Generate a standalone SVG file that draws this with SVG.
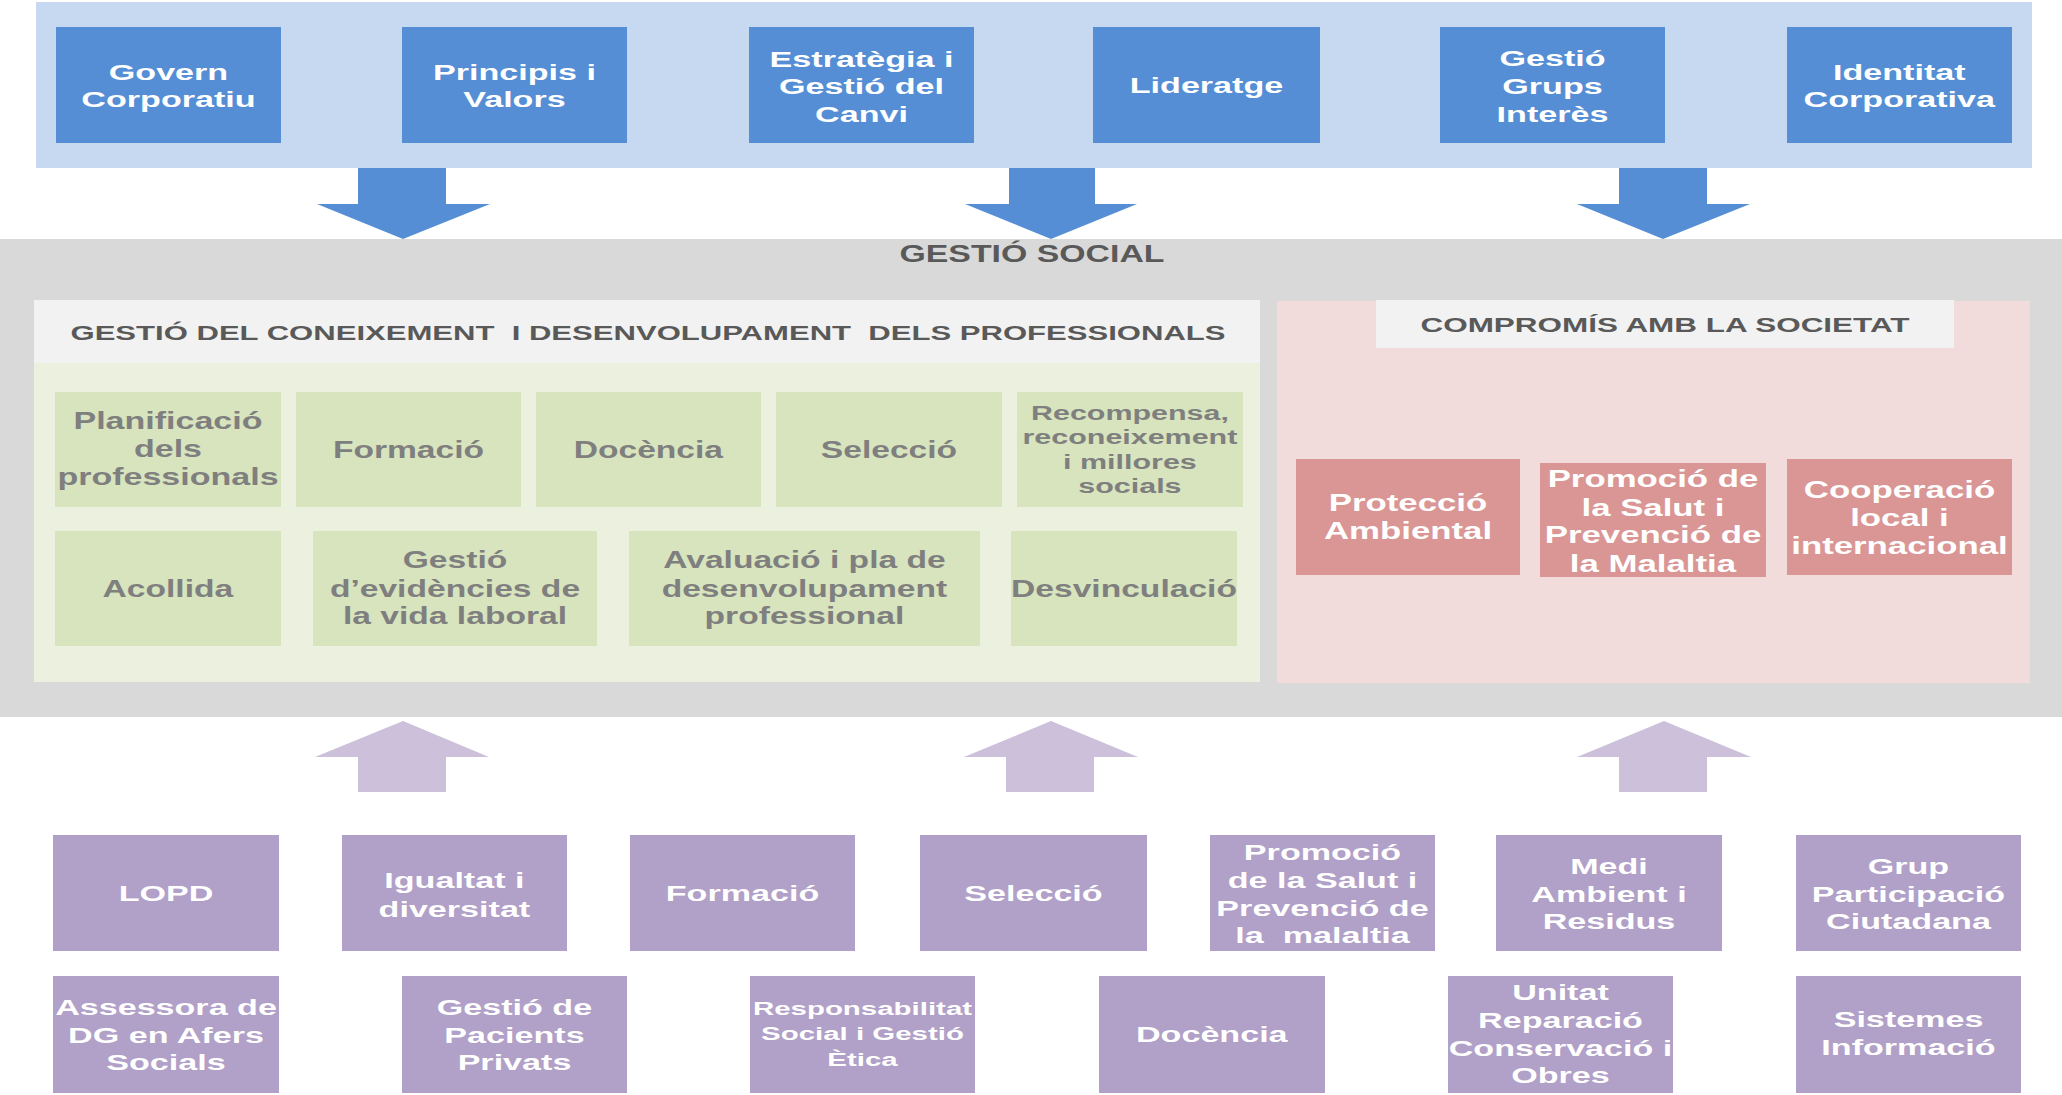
<svg xmlns="http://www.w3.org/2000/svg" width="2062" height="1095" viewBox="0 0 2062 1095">
<style>
text{font-family:"Liberation Sans",Arial,sans-serif;font-weight:bold;text-anchor:middle;transform-box:fill-box;transform-origin:center}
.blue{fill:#558ed5}
.green{fill:#d7e4bd}
.pink{fill:#da9694}
.purple{fill:#b1a0c7}
.tw{fill:#ffffff;font-size:22px;transform:scaleX(1.55)}
.tws{fill:#ffffff;font-size:19px;transform:scaleX(1.55)}
.tp{fill:#ffffff;font-size:24px;transform:scaleX(1.45)}
.tg{fill:#7f7f7f;font-size:24px;transform:scaleX(1.4)}
.tgs{fill:#7f7f7f;font-size:21px;transform:scaleX(1.45)}
.hd{fill:#595959;font-size:21px;white-space:pre}
.dn{fill:#558ed5}
.up{fill:#ccc0da}
</style>
<rect x="0" y="0" width="2062" height="1095" fill="#ffffff"/>
<g id="bands">
<rect x="36" y="2" width="1996" height="166" fill="#c6d9f1"/>
<rect x="0" y="239" width="2062" height="478" fill="#d9d9d9"/>
<rect x="34" y="300" width="1226" height="63" fill="#f2f2f2"/>
<rect x="34" y="363" width="1226" height="319" fill="#ebf1de"/>
<rect x="1277" y="301" width="753" height="382" fill="#f2dcdb"/>
<rect x="1376" y="300" width="578" height="48" fill="#f2f2f2"/>
<text class="hd" x="1032" y="262" font-size="24" style="font-size:24px" textLength="265" lengthAdjust="spacingAndGlyphs">GESTIÓ SOCIAL</text>
<text class="hd" x="648" y="340" textLength="1155" lengthAdjust="spacingAndGlyphs">GESTIÓ DEL CONEIXEMENT  I DESENVOLUPAMENT  DELS PROFESSIONALS</text>
<text class="hd" x="1665" y="332" textLength="489" lengthAdjust="spacingAndGlyphs">COMPROMÍS AMB LA SOCIETAT</text>
</g>
<g id="connectors">
<polygon class="dn" points="358,168 446,168 446,204 490,204 403,239 317,204 358,204"/>
<polygon class="dn" points="1009,168 1095,168 1095,204 1137,204 1051,239 965,204 1009,204"/>
<polygon class="dn" points="1619,168 1707,168 1707,204 1750,204 1663,239 1577,204 1619,204"/>
<polygon class="up" points="403,721 489,757 446,757 446,792 358,792 358,757 315,757"/>
<polygon class="up" points="1051,721 1138,757 1094,757 1094,792 1006,792 1006,757 964,757"/>
<polygon class="up" points="1664,721 1751,757 1707,757 1707,792 1619,792 1619,757 1577,757"/>
</g>
<g id="govern"><rect class="blue" x="56" y="27" width="225" height="116"/><text class="tw"><tspan x="168.5" y="80">Govern</tspan><tspan x="168.5" y="107">Corporatiu</tspan></text></g>
<g id="principis"><rect class="blue" x="402" y="27" width="225" height="116"/><text class="tw"><tspan x="514.5" y="80">Principis i</tspan><tspan x="514.5" y="107">Valors</tspan></text></g>
<g id="estrategia"><rect class="blue" x="749" y="27" width="225" height="116"/><text class="tw"><tspan x="861.5" y="67">Estratègia i</tspan><tspan x="861.5" y="94.5">Gestió del</tspan><tspan x="861.5" y="122">Canvi</tspan></text></g>
<g id="lideratge"><rect class="blue" x="1093" y="27" width="227" height="116"/><text class="tw" x="1206.5" y="93">Lideratge</text></g>
<g id="grups"><rect class="blue" x="1440" y="27" width="225" height="116"/><text class="tw"><tspan x="1552.5" y="66">Gestió</tspan><tspan x="1552.5" y="94">Grups</tspan><tspan x="1552.5" y="122">Interès</tspan></text></g>
<g id="identitat"><rect class="blue" x="1787" y="27" width="225" height="116"/><text class="tw"><tspan x="1899.5" y="80">Identitat</tspan><tspan x="1899.5" y="107">Corporativa</tspan></text></g>

<g id="planificacio"><rect class="green" x="55" y="392" width="226" height="115"/><text class="tg" style="font-size:23px;transform:scaleX(1.48)"><tspan x="168" y="429">Planificació</tspan><tspan x="168" y="457">dels</tspan><tspan x="168" y="485">professionals</tspan></text></g>
<g id="formacio-g"><rect class="green" x="296" y="392" width="225" height="115"/><text class="tg" x="408.5" y="458">Formació</text></g>
<g id="docencia-g"><rect class="green" x="536" y="392" width="225" height="115"/><text class="tg" x="648.5" y="458">Docència</text></g>
<g id="seleccio-g"><rect class="green" x="776" y="392" width="226" height="115"/><text class="tg" x="889" y="458">Selecció</text></g>
<g id="recompensa"><rect class="green" x="1017" y="392" width="226" height="115"/><text class="tgs"><tspan x="1130" y="420">Recompensa,</tspan><tspan x="1130" y="444.5">reconeixement</tspan><tspan x="1130" y="469">i millores</tspan><tspan x="1130" y="493.5">socials</tspan></text></g>
<g id="acollida"><rect class="green" x="55" y="531" width="226" height="115"/><text class="tg" x="168" y="597">Acollida</text></g>
<g id="evidencies"><rect class="green" x="313" y="531" width="284" height="115"/><text class="tg"><tspan x="455" y="568">Gestió</tspan><tspan x="455" y="597">d’evidències de</tspan><tspan x="455" y="624">la vida laboral</tspan></text></g>
<g id="avaluacio"><rect class="green" x="629" y="531" width="351" height="115"/><text class="tg"><tspan x="804.5" y="568">Avaluació i pla de</tspan><tspan x="804.5" y="597">desenvolupament</tspan><tspan x="804.5" y="624">professional</tspan></text></g>
<g id="desvinculacio"><rect class="green" x="1011" y="531" width="226" height="115"/><text class="tg" x="1124" y="597">Desvinculació</text></g>

<g id="proteccio"><rect class="pink" x="1296" y="459" width="224" height="116"/><text class="tp"><tspan x="1408" y="511">Protecció</tspan><tspan x="1408" y="539">Ambiental</tspan></text></g>
<g id="promocio-p"><rect class="pink" x="1540" y="463" width="226" height="114"/><text class="tp"><tspan x="1653" y="487">Promoció de</tspan><tspan x="1653" y="516">la Salut i</tspan><tspan x="1653" y="543">Prevenció de</tspan><tspan x="1653" y="572">la Malaltia</tspan></text></g>
<g id="cooperacio"><rect class="pink" x="1787" y="459" width="225" height="116"/><text class="tp"><tspan x="1899.5" y="498">Cooperació</tspan><tspan x="1899.5" y="526">local i</tspan><tspan x="1899.5" y="554">internacional</tspan></text></g>

<g id="lopd"><rect class="purple" x="53" y="835" width="226" height="116"/><text class="tw" x="166" y="901">LOPD</text></g>
<g id="igualtat"><rect class="purple" x="342" y="835" width="225" height="116"/><text class="tw"><tspan x="454.5" y="888">Igualtat i</tspan><tspan x="454.5" y="917">diversitat</tspan></text></g>
<g id="formacio-p"><rect class="purple" x="630" y="835" width="225" height="116"/><text class="tw" x="742.5" y="901">Formació</text></g>
<g id="seleccio-p"><rect class="purple" x="920" y="835" width="227" height="116"/><text class="tw" x="1033.5" y="901">Selecció</text></g>
<g id="promocio-s"><rect class="purple" x="1210" y="835" width="225" height="116"/><text class="tw" style="white-space:pre"><tspan x="1322.5" y="860">Promoció</tspan><tspan x="1322.5" y="888">de la Salut i</tspan><tspan x="1322.5" y="916">Prevenció de</tspan><tspan x="1322.5" y="943">la  malaltia</tspan></text></g>
<g id="medi"><rect class="purple" x="1496" y="835" width="226" height="116"/><text class="tw"><tspan x="1609" y="874">Medi</tspan><tspan x="1609" y="902">Ambient i</tspan><tspan x="1609" y="929">Residus</tspan></text></g>
<g id="grup"><rect class="purple" x="1796" y="835" width="225" height="116"/><text class="tw"><tspan x="1908.5" y="874">Grup</tspan><tspan x="1908.5" y="902">Participació</tspan><tspan x="1908.5" y="929">Ciutadana</tspan></text></g>
<g id="assessora"><rect class="purple" x="53" y="976" width="226" height="117"/><text class="tw"><tspan x="166" y="1015">Assessora de</tspan><tspan x="166" y="1043">DG en Afers</tspan><tspan x="166" y="1070">Socials</tspan></text></g>
<g id="pacients"><rect class="purple" x="402" y="976" width="225" height="117"/><text class="tw"><tspan x="514.5" y="1015">Gestió de</tspan><tspan x="514.5" y="1043">Pacients</tspan><tspan x="514.5" y="1070">Privats</tspan></text></g>
<g id="responsabilitat"><rect class="purple" x="750" y="976" width="225" height="117"/><text class="tws"><tspan x="862.5" y="1015">Responsabilitat</tspan><tspan x="862.5" y="1040">Social i Gestió</tspan><tspan x="862.5" y="1066">Ètica</tspan></text></g>
<g id="docencia-p"><rect class="purple" x="1099" y="976" width="226" height="117"/><text class="tw" x="1212" y="1042">Docència</text></g>
<g id="unitat"><rect class="purple" x="1448" y="976" width="225" height="117"/><text class="tw"><tspan x="1560.5" y="1000">Unitat</tspan><tspan x="1560.5" y="1028">Reparació</tspan><tspan x="1560.5" y="1056">Conservació i</tspan><tspan x="1560.5" y="1083">Obres</tspan></text></g>
<g id="sistemes"><rect class="purple" x="1796" y="976" width="225" height="117"/><text class="tw"><tspan x="1908.5" y="1027">Sistemes</tspan><tspan x="1908.5" y="1055">Informació</tspan></text></g>
</svg>
